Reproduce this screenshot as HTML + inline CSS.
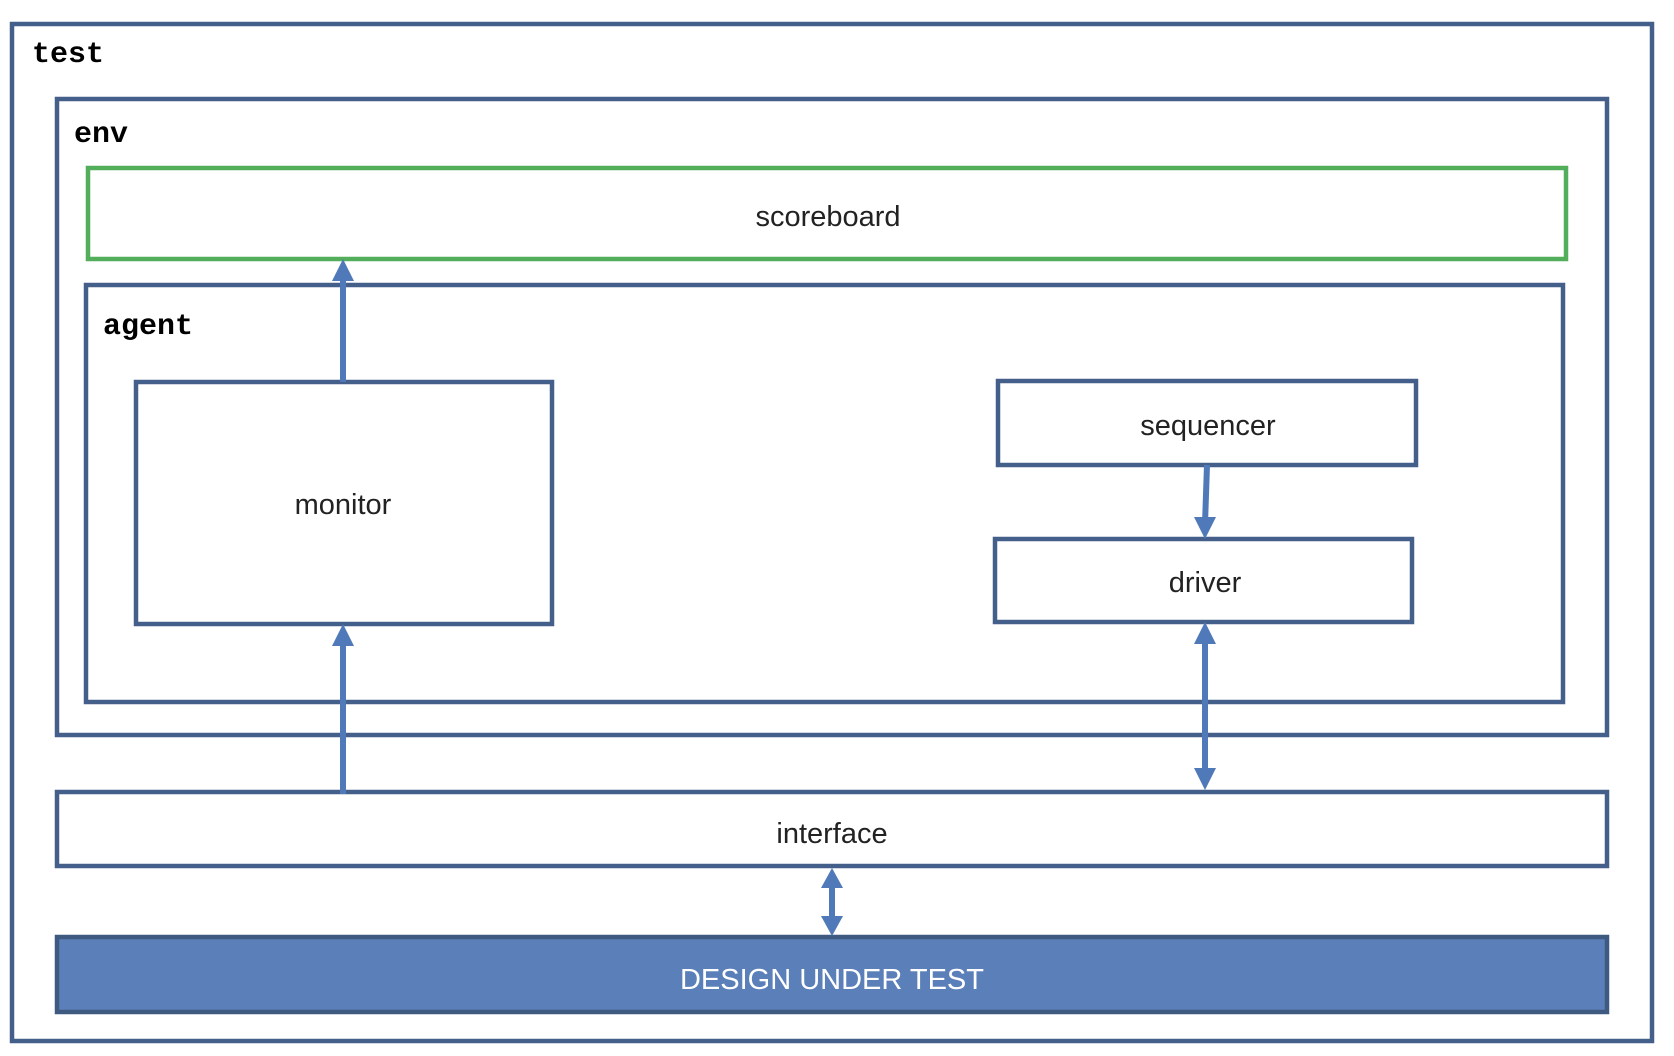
<!DOCTYPE html>
<html><head><style>body{margin:0;background:#fff}svg{display:block}</style></head><body>
<svg width="1674" height="1056" viewBox="0 0 1674 1056" xmlns="http://www.w3.org/2000/svg">
<g fill="none" stroke="#44608a" stroke-width="4.5">
<rect x="12" y="24" width="1640" height="1017"/>
<rect x="57" y="99" width="1550" height="636"/>
<rect x="86" y="285" width="1477" height="417"/>
<rect x="136" y="382" width="416" height="242"/>
<rect x="998" y="381" width="418" height="84"/>
<rect x="995" y="539" width="417" height="83"/>
<rect x="57" y="792" width="1550" height="74"/>
</g>
<rect x="88" y="168" width="1478" height="91" fill="none" stroke="#52ae5a" stroke-width="4.5"/>
<rect x="57" y="937" width="1550" height="75" fill="#5b7fb8" stroke="#3f5a80" stroke-width="4.5"/>
<g stroke="#4f79b8" stroke-width="6" fill="none">
<line x1="343" y1="382" x2="343" y2="275"/>
<line x1="343" y1="794" x2="343" y2="640"/>
<line x1="1207" y1="465" x2="1205" y2="524"/>
<line x1="1205" y1="638" x2="1205" y2="774"/>
<line x1="832" y1="882" x2="832" y2="920"/>
</g>
<g fill="#4f79b8">
<polygon points="343,259 332,281 354,281"/>
<polygon points="343,624 332,646 354,646"/>
<polygon points="1205,539 1194,517 1216,517"/>
<polygon points="1205,622 1194,644 1216,644"/>
<polygon points="1205,790 1194,768 1216,768"/>
<polygon points="832,868 821,888 843,888"/>
<polygon points="832,936 821,916 843,916"/>
</g>
<g font-family="'Liberation Mono',monospace" font-weight="bold" font-size="30" fill="#000">
<text x="32" y="62">test</text>
<text x="74" y="142">env</text>
<text x="103" y="334">agent</text>
</g>
<g font-family="'Liberation Sans',sans-serif" font-size="29" fill="#222" text-anchor="middle">
<text x="828" y="226">scoreboard</text>
<text x="343" y="514">monitor</text>
<text x="1208" y="435">sequencer</text>
<text x="1205" y="592">driver</text>
<text x="832" y="843">interface</text>
<text x="832" y="989" fill="#fff">DESIGN UNDER TEST</text>
</g>
</svg>
</body></html>
